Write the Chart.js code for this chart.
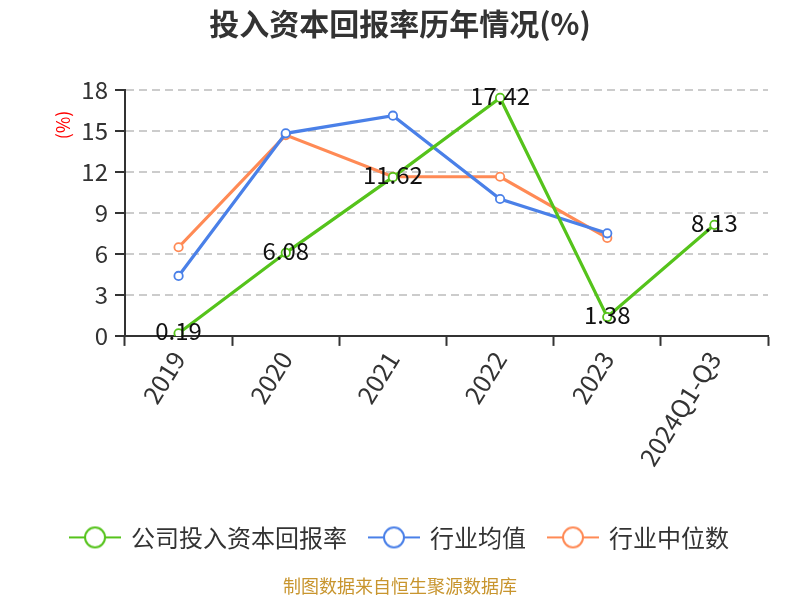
<!DOCTYPE html>
<html><head><meta charset="utf-8">
<script src="https://cdn.jsdelivr.net/npm/chart.js@4.4.0/dist/chart.umd.min.js"></script>
<style>html,body{margin:0;padding:0;background:#fff;}</style>
</head><body>
<canvas id="c" width="800" height="600"></canvas>
<script>
const categories = ['2019', '2020', '2021', '2022', '2023', '2024Q1-Q3'];
const companyROIC = [0.19, 6.08, 11.62, 17.42, 1.38, 8.13];
const industryAvg = [4.39, 14.83, 16.12, 10.02, 7.51, null];
const industryMedian = [6.49, 14.70, 11.65, 11.65, 7.17, null];
const seriesNames = ['公司投入资本回报率', '行业均值', '行业中位数'];
const yTicks = [0, 3, 6, 9, 12, 15, 18];
const titleText = '投入资本回报率历年情况(%)';
const yAxisTitle = '(%)';
const footerText = '制图数据来自恒生聚源数据库';

const colors = ['#55c31b', '#4a80e8', '#ff8a55'];
const FONT = "'Noto Sans CJK SC', 'Noto Sans', sans-serif";
Chart.defaults.font.family = FONT;

function legendIcon(color) {
  const c = document.createElement('canvas');
  c.width = 52; c.height = 26;
  const g = c.getContext('2d');
  g.strokeStyle = color; g.lineWidth = 2;
  g.beginPath(); g.moveTo(0, 13); g.lineTo(52, 13); g.stroke();
  g.beginPath(); g.arc(26, 13, 10, 0, Math.PI * 2);
  g.fillStyle = '#fff'; g.fill(); g.stroke();
  return c;
}
const icons = colors.map(legendIcon);

const valueLabels = {
  id: 'valueLabels',
  afterDatasetsDraw(chart) {
    const ctx = chart.ctx;
    const meta = chart.getDatasetMeta(0);
    const data = chart.data.datasets[0].data;
    ctx.save();
    ctx.font = '24px ' + FONT;
    ctx.fillStyle = '#111';
    ctx.textAlign = 'center';
    ctx.textBaseline = 'middle';
    meta.data.forEach((pt, i) => {
      if (data[i] == null) return;
      ctx.fillText(data[i].toFixed(2), pt.x, pt.y - 2);
    });
    ctx.restore();
  }
};

const yTitlePlugin = {
  id: 'yTitle',
  afterDraw(chart) {
    const ctx = chart.ctx;
    ctx.save();
    ctx.translate(63, 125);
    ctx.rotate(-Math.PI / 2);
    ctx.font = '18px ' + FONT;
    ctx.fillStyle = '#ff0000';
    ctx.textAlign = 'center';
    ctx.textBaseline = 'middle';
    ctx.fillText(yAxisTitle, 0, 0);
    ctx.restore();
  }
};

const seriesData = [companyROIC, industryAvg, industryMedian];

new Chart(document.getElementById('c'), {
  type: 'line',
  data: {
    labels: categories,
    datasets: seriesData.map((d, i) => ({
      label: seriesNames[i],
      data: d,
      borderColor: colors[i],
      backgroundColor: '#fff',
      pointBackgroundColor: '#fff',
      pointBorderColor: colors[i],
      pointBorderWidth: 1.8,
      pointRadius: 4.2,
      pointHoverRadius: 4.2,
      borderWidth: 3.2,
      tension: 0,
      spanGaps: false
    }))
  },
  options: {
    responsive: false,
    animation: false,
    events: [],
    layout: { padding: { left: 32, right: 32, top: 0, bottom: 0 } },
    plugins: {
      title: {
        display: true, text: titleText, color: '#333',
        font: { size: 30, weight: 'bold' },
        padding: { top: 6, bottom: 48 }
      },
      subtitle: {
        display: true, position: 'bottom', text: footerText, color: '#c8952e',
        font: { size: 18 },
        padding: { top: 16, bottom: 3 }
      },
      legend: {
        position: 'bottom',
        labels: {
          usePointStyle: true,
          pointStyleWidth: 48,
          boxHeight: 24,
          padding: 23,
          color: '#333',
          font: { size: 24 },
          generateLabels(chart) {
            return chart.data.datasets.map((ds, i) => ({
              text: ds.label,
              pointStyle: icons[i],
              fillStyle: '#fff',
              strokeStyle: colors[i],
              lineWidth: 0,
              fontColor: '#333',
              hidden: false,
              datasetIndex: i
            }));
          }
        }
      },
      tooltip: { enabled: false }
    },
    scales: {
      x: {
        type: 'category',
        offset: true,
        afterFit(scale) { scale.height = 166.5; },
        grid: {
          display: true, drawOnChartArea: false, drawTicks: true, offset: true,
          tickLength: 10, tickColor: '#333', tickWidth: 2
        },
        border: { display: true, color: '#333', width: 2 },
        ticks: {
          autoSkip: false, maxRotation: 58, minRotation: 58,
          color: '#333', font: { size: 25 }, padding: 0
        }
      },
      y: {
        min: 0, max: 18,
        afterFit(scale) { scale.width = 93; },
        afterBuildTicks(scale) { scale.ticks = yTicks.map(v => ({ value: v })); },
        grid: {
          color: (ctx) => ctx.tick && ctx.tick.value === 0 ? 'rgba(0,0,0,0)' : '#cccccc',
          lineWidth: 2,
          drawTicks: true, tickLength: 10, tickColor: '#333', tickWidth: 2, tickBorderDash: []
        },
        border: { display: true, color: '#333', width: 2, dash: [8, 5] },
        ticks: { color: '#333', font: { size: 24 }, padding: 7 }
      }
    }
  },
  plugins: [valueLabels, yTitlePlugin]
});
</script>
</body></html>
